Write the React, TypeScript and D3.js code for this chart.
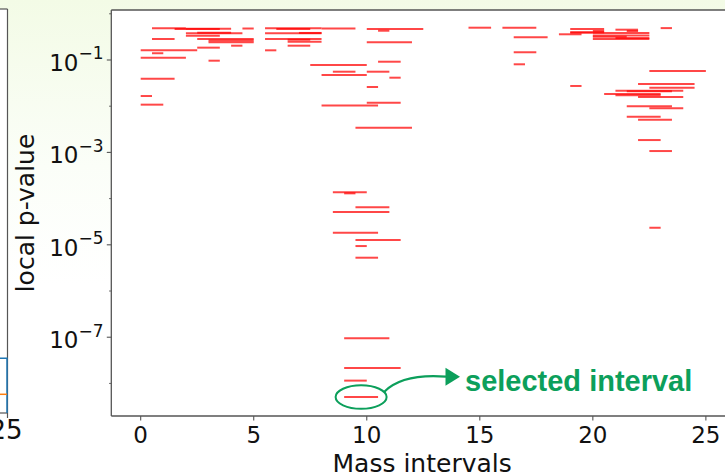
import React from "react";
import * as d3 from "d3";

const W = 725;
const H = 474;

// Mass-interval edges (bin units) and the local p-value found in each interval
const intervalLo = [
  0.5, 1.5, 2, 4.5, 2, 2.5, 2, 0.5, 2.5, 3, 3, 4, 2.5, 0, 0.5, 0, 3, 0, 0, 0,
  5.5, 6, 8, 10, 10.5, 5.5, 7, 5.5, 6.5, 6.5, 6.5, 5.5, 10, 10.5, 7.5, 8.5, 10, 8, 11, 10,
  10, 8, 9.5, 8.5, 9, 9.5, 8.5, 8.5, 9.5, 9.5, 9.5, 9, 9, 9, 9,
  14.5, 16, 16.5, 16.5, 16.5,
  19, 21, 23, 19, 20, 21.5, 19, 20, 18.5, 20, 20, 20, 21, 19, 22.5, 22, 22.5, 21, 21.5,
  20.5, 21, 22, 21.5, 22.5, 21.5, 22, 22, 22.5, 22.5,
];
const intervalHi = [
  2, 3.5, 4, 5, 4.5, 4, 3.5, 1.5, 5, 5, 5, 4.5, 3.5, 2.5, 1, 2, 3.5, 1.5, 0.5, 1,
  8, 7.5, 9.5, 12.5, 11, 8, 8, 8, 7.5, 8, 7.5, 6, 12, 11.5, 10, 9.5, 11, 10, 11.5, 10.5,
  11.5, 10.5, 12, 10, 9.5, 11, 11, 10.5, 11.5, 10, 10.5, 11, 11.5, 10, 10.5,
  15.5, 17.5, 18, 17.5, 17,
  20.5, 22, 23.5, 20.5, 20.5, 22, 20, 22.5, 19.5, 22.5, 21.5, 22.5, 22.5, 19.5, 25, 24.5, 24.5, 24, 23.5,
  23, 23, 24, 23.5, 24, 23, 23.5, 23, 23.5, 23,
];
const localP = [
  0.485, 0.47, 0.476, 0.48, 0.378, 0.39, 0.336, 0.285, 0.285, 0.265, 0.241, 0.204, 0.185, 0.162, 0.14, 0.112, 0.0966, 0.0394, 0.0166, 0.0108,
  0.485, 0.47, 0.48, 0.469, 0.43, 0.378, 0.385, 0.285, 0.275, 0.249, 0.204, 0.162, 0.241, 0.0918, 0.078, 0.0558, 0.0558, 0.0473, 0.0414, 0.026,
  0.0119, 0.0103, 0.00343, 1.37e-4, 1.3e-4, 6.5e-5, 5.13e-5, 1.83e-5, 1.27e-5, 9.4e-6, 5.26e-6, 9.46e-8, 2.15e-8, 1.15e-8, 5.08e-9,
  0.5, 0.5, 0.31, 0.147, 0.0807,
  0.469, 0.453, 0.49, 0.4, 0.424, 0.424, 0.39, 0.384, 0.36, 0.339, 0.319, 0.285, 0.299, 0.0274, 0.0578, 0.0303, 0.0251, 0.0216, 0.021,
  0.0184, 0.0172, 0.0158, 0.00995, 0.009, 0.0059, 0.0051, 0.00185, 0.00107, 2.34e-5,
];
const selectedIndex = 54;

const xTicks = [0, 5, 10, 15, 20, 25];
const yMajorExp = [-1, -3, -5, -7];
const yMinorExp = [0, -2, -4, -6, -8];

const xLabel = "Mass intervals";
const yLabel = "local p-value";
const noteText = "selected interval";

const GREEN = "#0c9f5b";
const TEXT = "#111";
const SPINE = "#555";

// plot frame
const left = 111.3;
const right = 733;
const top = 10;
const bottom = 416;

export default function App() {
  const x = d3.scaleLinear().domain([-1.3, 26.2]).range([left, right]);
  const y = d3.scaleLog().domain([Math.pow(10, 0.082), Math.pow(10, -8.705)]).range([top, bottom]);

  const sel = {
    cx: x((intervalLo[selectedIndex] + intervalHi[selectedIndex]) / 2),
    cy: y(localP[selectedIndex]),
  };
  const rx = 25.5;
  const ry = 11.7;
  const ax0 = sel.cx + rx * Math.cos(-0.45);
  const ay0 = sel.cy + ry * Math.sin(-0.45);
  const tipX = 460;
  const tipY = sel.cy - 20.3;
  const arrowPath = `M${ax0},${ay0} C${ax0 + 14},${ay0 - 14} ${ax0 + 36},${tipY - 2} ${tipX - 14},${tipY}`;

  return (
    <svg
      width={W}
      height={H}
      viewBox={`0 0 ${W} ${H}`}
      style={{ position: "absolute", left: 0, top: 0, display: "block", overflow: "hidden" }}
    >
      <defs>
        <linearGradient id="bg" x1="0" y1="0" x2="0" y2="1">
          <stop offset="0" stopColor="#f3fbe6" />
          <stop offset="0.35" stopColor="#fbfef8" />
          <stop offset="0.6" stopColor="#ffffff" />
        </linearGradient>
      </defs>
      <rect x={0} y={0} width={W} height={H} fill="url(#bg)" />

      {/* neighbouring panel, cut at the left edge */}
      <g>
        <rect x={0} y={9} width={7.5} height={404} fill="#fff" />
        <line x1={0} y1={9} x2={7.5} y2={9} stroke={SPINE} strokeWidth={1.2} />
        <line x1={7.5} y1={9} x2={7.5} y2={413} stroke={SPINE} strokeWidth={1.2} />
        <line x1={0} y1={413} x2={7.5} y2={413} stroke={SPINE} strokeWidth={1.2} />
        <line x1={7.5} y1={413} x2={7.5} y2={418} stroke={SPINE} strokeWidth={1.2} />
        <polyline points="0,358.3 7,358.3 7,413" fill="none" stroke="#1f77b4" strokeWidth={1.5} />
        <line x1={0} y1={394.3} x2={7} y2={394.3} stroke="#ff7f0e" strokeWidth={1.5} />
        <text x={6} y={439} textAnchor="middle" fontFamily="DejaVu Sans" fontSize={26} fill={TEXT}>
          25
        </text>
      </g>

      {/* plot area */}
      <rect x={left} y={top} width={right - left} height={bottom - top} fill="#fff" />

      {/* intervals */}
      <g>
        {localP.map((p, i) => (
          <line
            key={i}
            x1={x(intervalLo[i])}
            x2={x(intervalHi[i])}
            y1={y(p)}
            y2={y(p)}
            stroke="#ff0000"
            strokeOpacity={0.72}
            strokeWidth={2}
          />
        ))}
      </g>

      {/* spines */}
      <line x1={left} y1={top} x2={right} y2={top} stroke={SPINE} strokeWidth={1.3} />
      <line x1={left} y1={top} x2={left} y2={bottom} stroke={SPINE} strokeWidth={1.3} />
      <line x1={left} y1={bottom} x2={right} y2={bottom} stroke={SPINE} strokeWidth={1.3} />

      {/* x axis */}
      {xTicks.map((t) => (
        <g key={t}>
          <line x1={x(t)} x2={x(t)} y1={bottom} y2={bottom + 4.5} stroke={SPINE} strokeWidth={1.1} />
          <text x={x(t)} y={442.7} textAnchor="middle" fontFamily="DejaVu Sans" fontSize={23} fill={TEXT}>
            {t}
          </text>
        </g>
      ))}
      <text x={(left + right) / 2} y={471.5} textAnchor="middle" fontFamily="DejaVu Sans" fontSize={25} fill={TEXT}>
        {xLabel}
      </text>

      {/* y axis */}
      {yMinorExp.map((e) => (
        <line key={e} x1={left - 2.2} x2={left} y1={y(Math.pow(10, e))} y2={y(Math.pow(10, e))} stroke={SPINE} strokeWidth={0.9} />
      ))}
      {yMajorExp.map((e) => {
        const ty = y(Math.pow(10, e));
        return (
          <g key={e}>
            <line x1={left - 4.5} x2={left} y1={ty} y2={ty} stroke={SPINE} strokeWidth={1.1} />
            <text x={103.5} y={ty + 10.7} textAnchor="end" fontFamily="DejaVu Sans" fontSize={23} fill={TEXT}>
              10
              <tspan dy={-11.4} fontSize={17}>
                {`\u2212${Math.abs(e)}`}
              </tspan>
            </text>
          </g>
        );
      })}
      <text
        transform={`translate(34,${(top + bottom) / 2}) rotate(-90)`}
        textAnchor="middle"
        fontFamily="DejaVu Sans"
        fontSize={25}
        fill={TEXT}
      >
        {yLabel}
      </text>

      {/* annotation of the selected interval */}
      <ellipse cx={sel.cx} cy={sel.cy} rx={rx} ry={ry} fill="none" stroke={GREEN} strokeWidth={2} />
      <path d={arrowPath} fill="none" stroke={GREEN} strokeWidth={2.2} />
      <polygon
        points={`${tipX - 14.5},${tipY - 9} ${tipX},${tipY} ${tipX - 14.5},${tipY + 9}`}
        fill={GREEN}
      />
      <text
        x={465}
        y={391}
        fontFamily="Liberation Sans, Arial, sans-serif"
        fontWeight="bold"
        fontSize={29}
        fill={GREEN}
      >
        {noteText}
      </text>
    </svg>
  );
}
